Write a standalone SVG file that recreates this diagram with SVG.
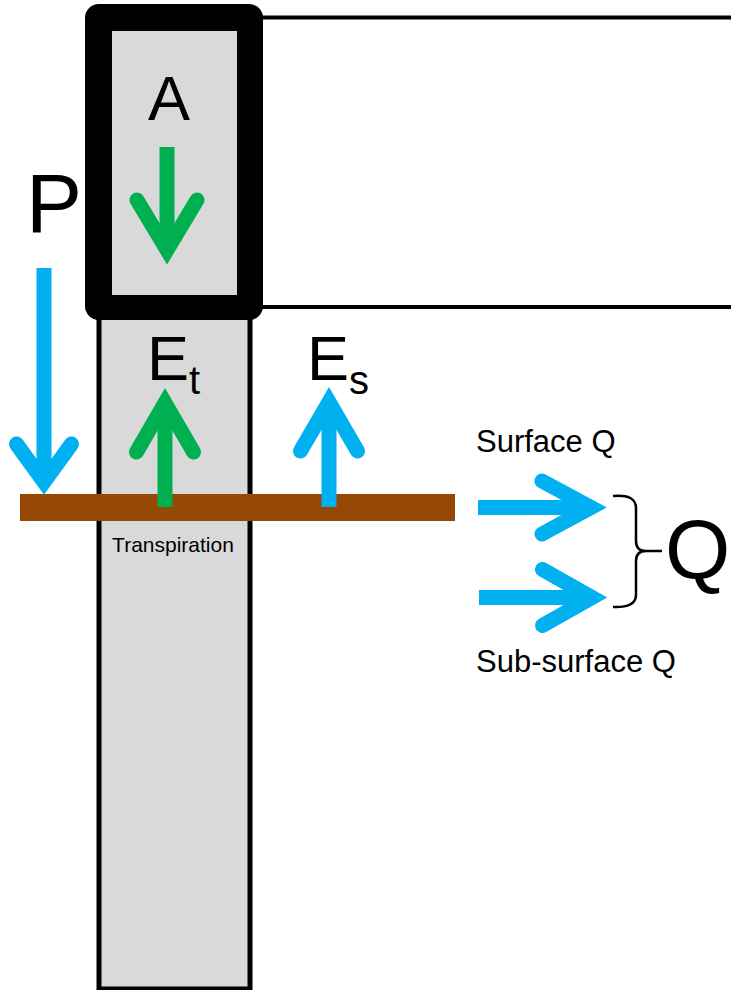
<svg xmlns="http://www.w3.org/2000/svg" width="731" height="990" viewBox="0 0 731 990">
<style>
text{font-family:"Liberation Sans",Arial,sans-serif;fill:#000}
.shaft{fill:none;stroke-width:15;stroke-linecap:butt}
.head{fill:none;stroke-width:15;stroke-linecap:round;stroke-linejoin:miter;stroke-miterlimit:10}
.blue{stroke:#00B0F0}
.green{stroke:#00B050}
.line{stroke:#000;stroke-width:4;fill:none}
</style>
<rect width="731" height="990" fill="#fff"/>
<g id="soil-column">
<rect x="99" y="300" width="151" height="689" fill="#D9D9D9" stroke="#000" stroke-width="5"/>
</g>
<g id="atmosphere">
<line class="line" x1="255" y1="17.5" x2="731" y2="17.5"/>
<line class="line" x1="255" y1="307" x2="731" y2="307"/>
<rect x="85" y="4" width="178" height="316" rx="14" fill="#000"/>
<rect x="112" y="31" width="125" height="264" fill="#D9D9D9"/>
<text x="169" y="120" font-size="63" text-anchor="middle">A</text>
</g>
<g id="soil-surface">
<rect x="20" y="494" width="435" height="27" fill="#964805"/>
</g>
<g id="labels">
<text x="26" y="232" font-size="84">P</text>
<text x="147" y="380" font-size="63">E<tspan font-size="40" dy="14">t</tspan></text>
<text x="307" y="380" font-size="63">E<tspan font-size="40" dy="14">s</tspan></text>
<text x="173" y="552" font-size="21" text-anchor="middle">Transpiration</text>
<text x="476" y="452" font-size="31">Surface Q</text>
<text x="476" y="672" font-size="31">Sub-surface Q</text>
<text x="665" y="578" font-size="84">Q</text>
</g>
<g id="connectors">
<line class="shaft green" x1="167" y1="147" x2="167" y2="250"/>
<path class="head green" d="M137,200 L167,250 L197,200"/>
<line class="shaft blue" x1="44" y1="268" x2="44" y2="482"/>
<path class="head blue" d="M16.5,444 L44,482 L71.5,444"/>
<line class="shaft green" x1="165" y1="507" x2="165" y2="403"/>
<path class="head green" d="M136.5,452 L165,403 L193.5,452"/>
<line class="shaft blue" x1="329" y1="507" x2="329" y2="402"/>
<path class="head blue" d="M300.5,451 L329,402 L357.5,451"/>
<line class="shaft blue" x1="478" y1="507.5" x2="591" y2="507.5"/>
<path class="head blue" d="M542,481 L591,507.5 L542,534"/>
<line class="shaft blue" x1="479" y1="597.5" x2="592" y2="597.5"/>
<path class="head blue" d="M542.5,569.5 L592,597.5 L542.5,625.5"/>
<path d="M613,496 Q636,494 636,508 L636,541 Q636,551 646,551 Q636,551 636,561 L636,595 Q636,608 613,607 M646,551 L662,551" fill="none" stroke="#000" stroke-width="2.5"/>
</g>
</svg>
